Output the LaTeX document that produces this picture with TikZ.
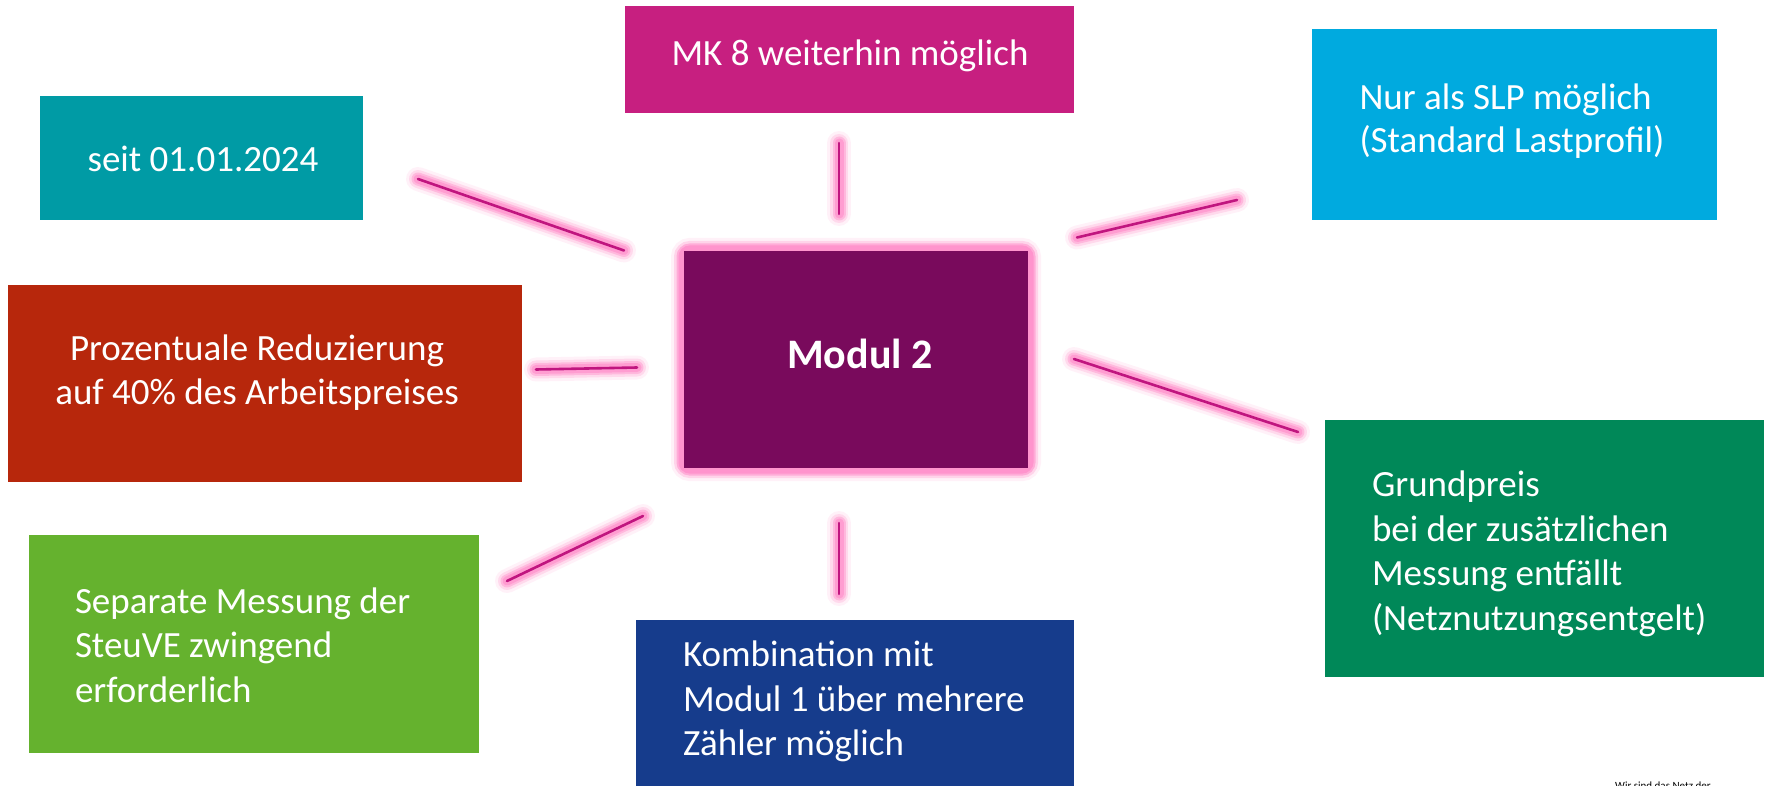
\documentclass[tikz,border=0pt]{standalone}
\usepackage{fontspec}
\setmainfont{Carlito}
\definecolor{cMK}{HTML}{C71F80}
\definecolor{cSeit}{HTML}{009BA5}
\definecolor{cSLP}{HTML}{00AADF}
\definecolor{cProz}{HTML}{B7270C}
\definecolor{cModul}{HTML}{790A5C}
\definecolor{cGrund}{HTML}{008858}
\definecolor{cSep}{HTML}{65B22E}
\definecolor{cKomb}{HTML}{163C8C}
\definecolor{glowpink}{HTML}{FF92CC}
\definecolor{linecore}{HTML}{C0157F}
\tikzset{
  box/.style={anchor=north west, inner sep=0, outer sep=0, draw=none},
  txt/.style={text=white, inner sep=0, outer sep=0, font=\fontsize{37}{44.5}\selectfont},
  ltxt/.style={txt, anchor=base west},
  glowline/.style={line cap=round},
}
\newcommand{\glowseg}[2]{%
  \draw[glowline, glowpink, line width=24pt, opacity=0.12] (#1) -- (#2);
  \draw[glowline, glowpink, line width=18pt, opacity=0.25] (#1) -- (#2);
  \draw[glowline, glowpink, line width=13pt, opacity=0.45] (#1) -- (#2);
  \draw[glowline, glowpink, line width=9pt, opacity=0.7] (#1) -- (#2);
  \draw[glowline, linecore, line width=2.6pt] (#1) -- (#2);
}
\newcommand{\lines}[1]{\begin{tabular}[t]{@{}l@{}}#1\end{tabular}}
\newcommand{\clines}[1]{\begin{tabular}[t]{@{}c@{}}#1\end{tabular}}
\begin{document}
\begin{tikzpicture}[x=1pt, y=-1pt]
\useasboundingbox (0,0) rectangle (1771,786);
\fill[white] (0,0) rectangle (1771,786);

% boxes
\node[box, fill=cMK, minimum width=449pt, minimum height=107pt] (bMK) at (625,6) {};
\node[box, fill=cSeit, minimum width=323pt, minimum height=124pt] (bSeit) at (40,96) {};
\node[box, fill=cSLP, minimum width=405pt, minimum height=191pt] (bSLP) at (1312,29) {};
\node[box, fill=cProz, minimum width=514pt, minimum height=197pt] (bProz) at (8,285) {};
\node[box, fill=cGrund, minimum width=439pt, minimum height=257pt] (bGrund) at (1325,420) {};
\node[box, fill=cSep, minimum width=450pt, minimum height=218pt] (bSep) at (29,535) {};
\node[box, fill=cKomb, minimum width=438pt, minimum height=170pt] (bKomb) at (636,620) {};

% central box with glow
\foreach \w/\o in {26/0.12, 20/0.3, 15/0.6, 11/0.9}{
  \draw[glowpink, line width=\w pt, opacity=\o, rounded corners=6pt] (684,251) rectangle (1028,468);
}
\node[box, fill=cModul, minimum width=344pt, minimum height=217pt] (bModul) at (684,251) {};

% texts
\node[txt, anchor=base] (tMK) at (850,66) {MK 8 weiterhin möglich};
\node[txt, anchor=base] (tSeit) at (203,172) {seit 01.01.2024};
\node[ltxt, font=\fontsize{37}{42.5}\selectfont] (tSLP) at (1359.5,110) {\lines{Nur als SLP möglich\\(Standard Lastprofil)}};
\node[txt, anchor=base] (tProz) at (257,360) {\clines{Prozentuale Reduzierung\\auf 40\% des Arbeitspreises}};
\node[txt, anchor=base, font=\fontsize{42}{50}\selectfont\bfseries] (tModul) at (860,368) {Modul 2};
\node[ltxt] (tGrund) at (1372,496.7) {\lines{Grundpreis\\bei der zusätzlichen\\Messung entfällt\\(Netznutzungsentgelt)}};
\node[ltxt] (tSep) at (75,613.3) {\lines{Separate Messung der\\SteuVE zwingend\\erforderlich}};
\node[ltxt] (tKomb) at (683,666.7) {\lines{Kombination mit\\Modul 1 über mehrere\\Zähler möglich}};
\node[anchor=north west, inner sep=0, font=\fontsize{11}{13}\selectfont] (tNetz) at (1615,782) {Wir sind das Netz der};

% connector end points
\coordinate (l1a) at (418,179);   \coordinate (l1b) at (624,250.5);
\coordinate (l2a) at (839,143);   \coordinate (l2b) at (839,214);
\coordinate (l3a) at (1077,237.5);\coordinate (l3b) at (1237,200);
\coordinate (l4a) at (536,369.5); \coordinate (l4b) at (637,367.5);
\coordinate (l5a) at (1074,359);  \coordinate (l5b) at (1298,432);
\coordinate (l6a) at (507,581);   \coordinate (l6b) at (643,516);
\coordinate (l7a) at (839,523);   \coordinate (l7b) at (839,594);

\glowseg{l1a}{l1b}
\glowseg{l2a}{l2b}
\glowseg{l3a}{l3b}
\glowseg{l4a}{l4b}
\glowseg{l5a}{l5b}
\glowseg{l6a}{l6b}
\glowseg{l7a}{l7b}
\end{tikzpicture}
\end{document}
